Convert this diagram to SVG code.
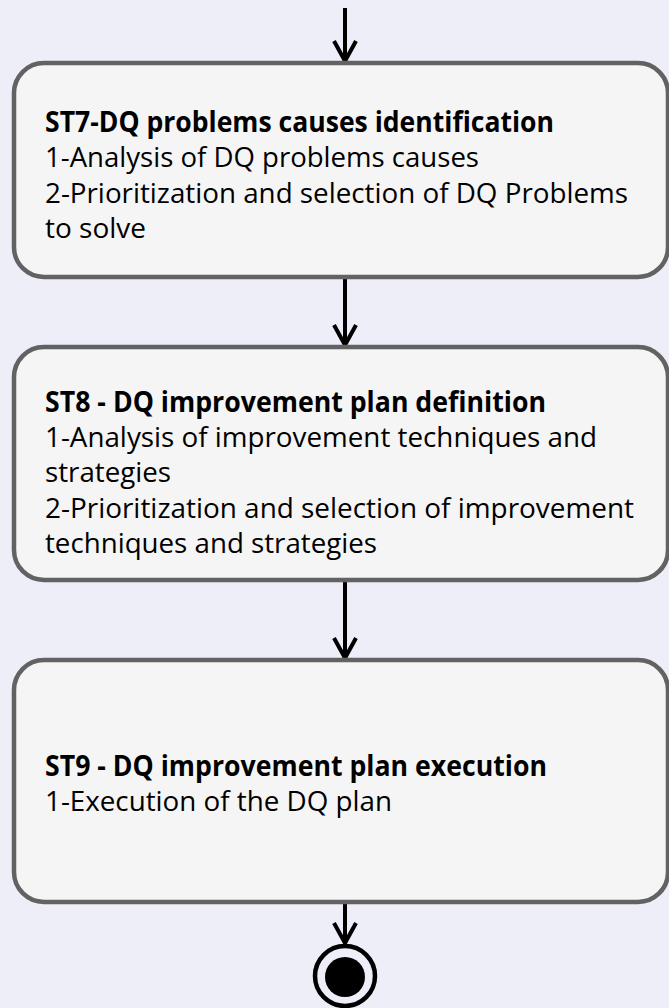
<svg xmlns="http://www.w3.org/2000/svg" width="669" height="1008" viewBox="0 0 669 1008">
  <style>
    .box { fill: #F5F5F5; stroke: #626262; stroke-width: 4.5; }
    .t { font-family: "Open Sans", "Noto Sans", "Liberation Sans", sans-serif; font-size: 28px; fill: #000000; }
    .b { font-weight: bold; }
    .conn { stroke: #000000; stroke-width: 4; fill: none; }
  </style>
  <rect x="0" y="0" width="669" height="1008" fill="#EEEEF8"/>

  <g id="connectors">
    <line class="conn" x1="345" y1="8" x2="345" y2="61"/>
    <polyline class="conn" points="334,41 345,61 356,41"/>
    <line class="conn" x1="345" y1="279" x2="345" y2="345"/>
    <polyline class="conn" points="334,325 345,345 356,325"/>
    <line class="conn" x1="345" y1="582" x2="345" y2="658"/>
    <polyline class="conn" points="334,638 345,658 356,638"/>
    <line class="conn" x1="345" y1="904" x2="345" y2="943"/>
    <polyline class="conn" points="334,923 345,943 356,923"/>
  </g>

  <g id="st7">
    <rect class="box" x="14" y="63" width="654" height="214" rx="30" ry="30"/>
    <text class="t b" x="45" y="132" textLength="509" lengthAdjust="spacingAndGlyphs">ST7-DQ problems causes identification</text>
    <text class="t" x="45" y="167" textLength="434" lengthAdjust="spacingAndGlyphs">1-Analysis of DQ problems causes</text>
    <text class="t" x="45" y="203" textLength="583" lengthAdjust="spacingAndGlyphs">2-Prioritization and selection of DQ Problems</text>
    <text class="t" x="45" y="238" textLength="101" lengthAdjust="spacingAndGlyphs">to solve</text>
  </g>

  <g id="st8">
    <rect class="box" x="14" y="347" width="654" height="233" rx="30" ry="30"/>
    <text class="t b" x="45" y="412" textLength="501" lengthAdjust="spacingAndGlyphs">ST8 - DQ improvement plan definition</text>
    <text class="t" x="45" y="447" textLength="552" lengthAdjust="spacingAndGlyphs">1-Analysis of improvement techniques and</text>
    <text class="t" x="45" y="482" textLength="126" lengthAdjust="spacingAndGlyphs">strategies</text>
    <text class="t" x="45" y="518" textLength="589" lengthAdjust="spacingAndGlyphs">2-Prioritization and selection of improvement</text>
    <text class="t" x="45" y="553" textLength="332" lengthAdjust="spacingAndGlyphs">techniques and strategies</text>
  </g>

  <g id="st9">
    <rect class="box" x="14" y="660" width="654" height="242" rx="30" ry="30"/>
    <text class="t b" x="45" y="776" textLength="502" lengthAdjust="spacingAndGlyphs">ST9 - DQ improvement plan execution</text>
    <text class="t" x="45" y="811" textLength="347" lengthAdjust="spacingAndGlyphs">1-Execution of the DQ plan</text>
  </g>

  <g id="end">
    <circle cx="345" cy="976" r="30" fill="none" stroke="#000000" stroke-width="4.5"/>
    <circle cx="345" cy="977" r="20" fill="#000000"/>
  </g>
</svg>
